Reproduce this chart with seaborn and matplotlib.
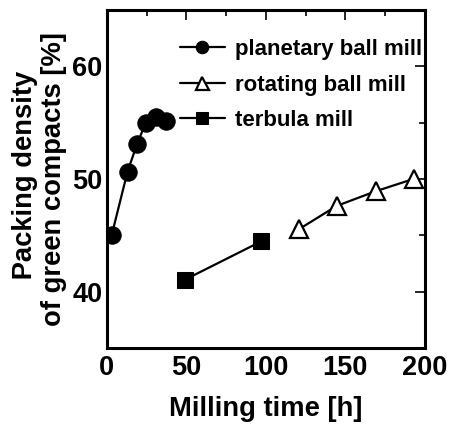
import matplotlib
matplotlib.use("Agg")
import matplotlib.pyplot as plt
import seaborn as sns
from matplotlib.ticker import MultipleLocator

# Data
planetary_t = [3, 13, 19, 24.5, 31, 37]
planetary_d = [45.0, 50.65, 53.1, 55.0, 55.5, 55.1]
rotating_t = [121, 144.5, 169, 193]
rotating_d = [45.55, 47.6, 48.9, 50.0]
terbula_t = [49, 97]
terbula_d = [41.05, 44.45]
labels = ["planetary ball mill", "rotating ball mill", "terbula mill"]

sns.set_style("white")
plt.rcParams['font.family'] = ['Liberation Sans', 'DejaVu Sans']
plt.rcParams['font.weight'] = 'bold'
for k in ['text.color', 'axes.labelcolor', 'xtick.color', 'ytick.color', 'axes.edgecolor']:
    plt.rcParams[k] = 'black'

fig = plt.figure(figsize=(4.51, 4.29), dpi=100)
ax = fig.add_axes([0.237, 0.189, 0.705, 0.788])

sns.lineplot(x=planetary_t, y=planetary_d, ax=ax, color='k', marker='o', ms=12.5,
             mfc='k', mec='k', lw=1.6, label=labels[0], sort=False)
sns.lineplot(x=rotating_t, y=rotating_d, ax=ax, color='k', marker='^', ms=13,
             mfc='white', mec='k', mew=1.6, lw=1.6, label=labels[1], sort=False)
sns.lineplot(x=terbula_t, y=terbula_d, ax=ax, color='k', marker='s', ms=12,
             mfc='k', mec='k', lw=1.6, label=labels[2], sort=False)

ax.set_xlim(0, 200)
ax.set_ylim(35, 65)
ax.xaxis.set_major_locator(MultipleLocator(50))
ax.xaxis.set_minor_locator(MultipleLocator(25))
ax.yaxis.set_major_locator(MultipleLocator(10))
ax.yaxis.set_minor_locator(MultipleLocator(5))
ax.tick_params(which='both', direction='in', top=True, right=True, width=1.2,
               labelsize=19.5, labelcolor='black', color='black')
ax.tick_params(axis='x', pad=5)
ax.tick_params(axis='y', pad=3)
ax.tick_params(which='major', length=7)
ax.tick_params(which='minor', length=4.5)
for lab in ax.get_xticklabels() + ax.get_yticklabels():
    lab.set_fontweight('bold')
for s in ax.spines.values():
    s.set_linewidth(2.2)
    s.set_color('k')

ax.set_xlabel("Milling time [h]", fontsize=19.7, fontweight='bold', labelpad=11,
              color='black')
ax.set_ylabel(" Packing density\nof green compacts [%]", fontsize=19.7,
              fontweight='bold', labelpad=4, linespacing=1.15, color='black')

leg = ax.legend(loc='upper right', bbox_to_anchor=(0.99, 0.914), frameon=False,
                borderaxespad=0, borderpad=0,
                markerscale=0.72, handlelength=2.05, handletextpad=0.42,
                labelspacing=0.66, prop={'size': 16, 'weight': 'bold'})
for t in leg.get_texts():
    t.set_color('black')

fig.savefig("out.png", dpi=100)
